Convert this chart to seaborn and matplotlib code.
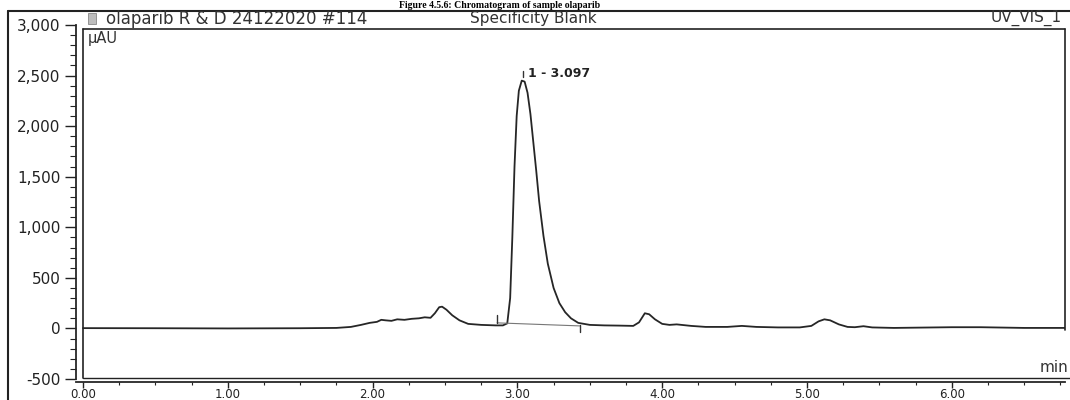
import numpy as np
import pandas as pd
import seaborn as sns
import matplotlib.pyplot as plt
from matplotlib.lines import Line2D
from matplotlib.patches import Rectangle
from matplotlib.ticker import MultipleLocator, FuncFormatter

# chromatogram trace (time in min, signal in uAU)
time_min = [0.00, 0.50, 1.00, 1.50, 1.75, 1.85, 1.92, 1.98, 2.03, 2.06, 2.09, 2.13,
            2.17, 2.22, 2.27, 2.32, 2.36, 2.40, 2.43, 2.46, 2.48, 2.51, 2.55, 2.60,
            2.66, 2.75, 2.85, 2.90, 2.93, 2.95, 2.965, 2.98, 2.995, 3.01, 3.03, 3.05,
            3.07, 3.09, 3.11, 3.13, 3.15, 3.18, 3.21, 3.25, 3.29, 3.33, 3.37, 3.42,
            3.50, 3.60, 3.70, 3.80, 3.84, 3.88, 3.91, 3.95, 4.00, 4.05, 4.10, 4.20,
            4.30, 4.45, 4.55, 4.65, 4.80, 4.95, 5.03, 5.08, 5.12, 5.16, 5.22, 5.28,
            5.33, 5.39, 5.45, 5.60, 6.00, 6.20, 6.50, 6.80]
signal_uau = [3, 2, 0, 2, 5, 15, 35, 55, 65, 85, 80, 75,
              90, 85, 95, 100, 110, 105, 150, 210, 215, 185, 130, 80,
              45, 35, 30, 30, 50, 300, 900, 1600, 2100, 2350, 2450, 2440,
              2330, 2120, 1840, 1560, 1260, 915, 640, 400, 250, 160, 100, 55,
              35, 30, 28, 25, 60, 150, 140, 90, 45, 35, 40, 25,
              15, 15, 25, 15, 10, 10, 25, 70, 90, 80, 40, 15,
              12, 22, 10, 5, 12, 12, 5, 5]

# integration marks for peak 1
peak_start = 2.86
peak_end = 3.43
base_start = 55
base_end = 25
peak_rt = 3.04
peak_label = "1 - 3.097"

df = pd.DataFrame({'time': time_min, 'signal': signal_uau})

sns.set_theme(style='ticks')
plt.rcParams['font.family'] = ['DejaVu Sans']

W, H = 1070, 400
fig = plt.figure(figsize=(W / 100, H / 100), dpi=100)
fig.patch.set_facecolor('white')

# axes: y spine at px 76, right edge px 1065, top (3000) px 25, bottom (-500) px 379
ax = fig.add_axes([76 / W, 1 - 379 / H, (1065 - 76) / W, (379 - 25) / H])
ax.set_facecolor('white')

sns.lineplot(data=df, x='time', y='signal', color='#262626', lw=1.3, ax=ax)

# integration baseline and delimiters
ax.plot([peak_start, peak_end], [base_start, base_end], color='#777777', lw=0.8)
ax.plot([peak_start, peak_start], [base_start - 5, base_start + 75], color='#333333', lw=1)
ax.plot([peak_end, peak_end], [base_end + 5, base_end - 60], color='#333333', lw=1)
ax.plot([peak_rt, peak_rt], [2490, 2545], color='#333333', lw=1)
ax.text(peak_rt + 0.03, 2520, peak_label, fontsize=9, fontweight='bold',
        ha='left', va='center', color='#222222')

ax.set_xlim(-7 / 144.8, (1065 - 83) / 144.8)
ax.set_ylim(-500, 3000)
ax.set_xlabel('')
ax.set_ylabel('')

ax.xaxis.set_major_locator(MultipleLocator(1.0))
ax.xaxis.set_minor_locator(MultipleLocator(0.25))
ax.yaxis.set_major_locator(MultipleLocator(500))
ax.yaxis.set_minor_locator(MultipleLocator(100))
ax.xaxis.set_major_formatter(FuncFormatter(lambda v, p: f'{v:.2f}'))
ax.yaxis.set_major_formatter(FuncFormatter(lambda v, p: f'{v:,.0f}'))

for s in ['top', 'right']:
    ax.spines[s].set_visible(False)
ax.spines['left'].set_linewidth(1.3)
ax.spines['bottom'].set_linewidth(1.3)
ax.spines['bottom'].set_position(('outward', 2))
ax.tick_params(axis='y', which='major', direction='out', length=8, width=1, labelsize=11,
               pad=3, colors='#222222')
ax.tick_params(axis='y', which='minor', direction='out', length=4, width=0.8, color='#222222')
ax.tick_params(axis='x', which='major', direction='out', length=4, width=1, labelsize=8.5,
               pad=0.5, colors='#222222')
ax.tick_params(axis='x', which='minor', direction='out', length=2.5, width=0.8, color='#222222')

# frame lines of the printout (figure pixel coords)
def hline(y, x0, x1, lw=1.2):
    fig.add_artist(Line2D([x0 / W, x1 / W], [1 - y / H, 1 - y / H], color='#222222', lw=lw,
                          transform=fig.transFigure))

def vline(x, y0, y1, lw=1.2):
    fig.add_artist(Line2D([x / W, x / W], [1 - y0 / H, 1 - y1 / H], color='#222222', lw=lw,
                          transform=fig.transFigure))

hline(10.5, 8, 1070, lw=1.5)   # outer top
vline(8, 10.5, 400, lw=1.5)    # outer left
hline(29, 83, 1065)            # inner box top
vline(83, 29, 378)             # inner box left
vline(1065, 29, 330)           # inner box right
hline(378, 83, 1070, lw=1.0)   # inner box bottom

# header row
fig.add_artist(Rectangle((88 / W, 1 - 23.5 / H), 8 / W, 10 / H, transform=fig.transFigure,
                         facecolor='#bdbdbd', edgecolor='#888888', lw=0.6))
fig.text(106 / W, 1 - 18.5 / H, 'olaparib R & D 24122020 #114', fontsize=12,
         ha='left', va='center', color='#333333')
fig.text(533 / W, 1 - 18.5 / H, 'Specificity Blank', fontsize=11,
         ha='center', va='center', color='#333333')
fig.text(1062 / W, 1 - 18 / H, 'UV_VIS_1', fontsize=11,
         ha='right', va='center', color='#333333')
fig.text(88 / W, 1 - 38 / H, 'µAU', fontsize=10.5, ha='left', va='center', color='#333333')
fig.text(1040 / W, 1 - 367 / H, 'min', fontsize=11, ha='left', va='center', color='#333333')

# caption of the page above the printout
fig.text(500 / W, 1 - 0.5 / H, 'Figure 4.5.6: Chromatogram of sample olaparib',
         fontsize=7, fontweight='bold', family=['Liberation Serif', 'DejaVu Serif'],
         ha='center', va='top', color='black')

fig.savefig('out.png', dpi=100, facecolor='white')
